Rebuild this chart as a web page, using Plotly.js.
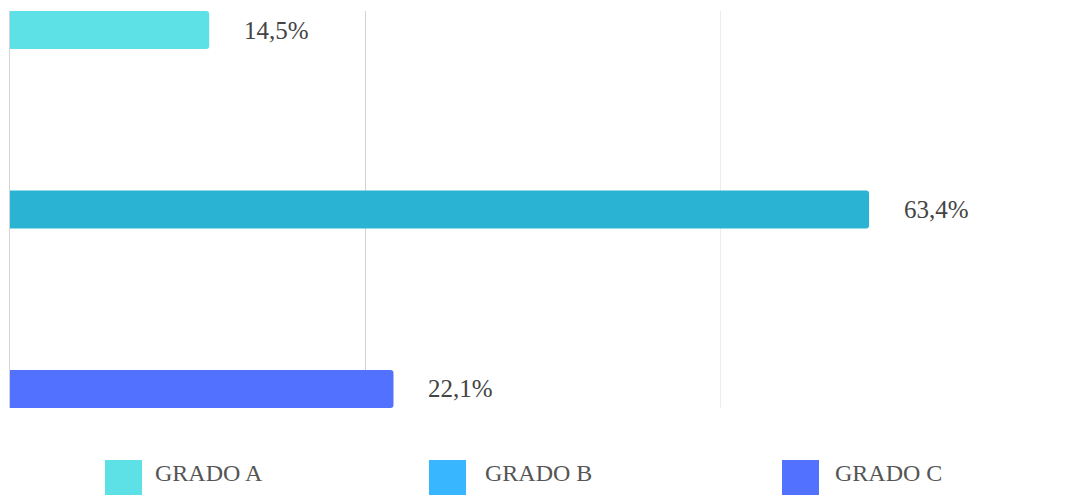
<!DOCTYPE html>
<html>
<head>
<meta charset="utf-8">
<script src="https://cdn.plot.ly/plotly-3.0.1.min.js"></script>
<style>html,body{margin:0;padding:0;background:#fff;}#chart{width:1065px;height:495px;}</style>
</head>
<body>
<div id="chart"></div>
<script>
// Data
const categories = ['GRADO A', 'GRADO B', 'GRADO C'];
const barLengths = [14.7, 63.4, 28.3];          // drawn bar lengths (as pictured)
const valueLabels = ['14,5%', '63,4%', '22,1%']; // printed labels
const barColors = ['#5de0e6', '#2bb3d3', '#5271ff'];
const legendNames = ['GRADO A', 'GRADO B', 'GRADO C'];
const legendColors = ['#5de0e6', '#38b6ff', '#5271ff'];
const gridMajor = [26.2];
const gridMinor = [52.4];

const SERIF = "'Liberation Serif', 'Times New Roman', 'DejaVu Serif', serif";

// layout geometry
const W = 1065, H = 495;
const M = {l: 10, r: 0, t: 11, b: 87};
const pw = W - M.l - M.r, ph = H - M.t - M.b;
const px2x = p => (p - M.l) / pw;
const px2y = p => (H - M.b - p) / ph;

const traces = categories.map((c, i) => ({
  type: 'bar', orientation: 'h',
  x: [barLengths[i]], y: [c],
  width: 0.212,
  marker: {color: barColors[i]},
  hoverinfo: 'skip', showlegend: false
}));

const annotations = categories.map((c, i) => ({
  x: barLengths[i], y: c, xref: 'x', yref: 'y',
  text: valueLabels[i], showarrow: false,
  xanchor: 'left', yanchor: 'middle', xshift: 33,
  font: {family: SERIF, size: 25, color: '#444'}
}));

const legSquareX = [105, 429, 782];
const legTextX = [153, 483, 833];
const shapes = [];
legendNames.forEach((n, i) => {
  shapes.push({
    type: 'rect', xref: 'paper', yref: 'paper', layer: 'above',
    x0: px2x(legSquareX[i]), x1: px2x(legSquareX[i] + 37),
    y0: px2y(460), y1: px2y(498),
    fillcolor: legendColors[i], line: {width: 0}
  });
  annotations.push({
    xref: 'paper', yref: 'paper', x: px2x(legTextX[i]), y: px2y(473),
    text: n, showarrow: false, xanchor: 'left', yanchor: 'middle',
    font: {family: SERIF, size: 24, color: '#555'}
  });
});

const layout = {
  width: W, height: H,
  margin: M,
  paper_bgcolor: '#fff', plot_bgcolor: '#fff',
  barcornerradius: 3,
  font: {family: SERIF},
  xaxis: {
    range: [0, pw / 13.55],
    tickmode: 'array', tickvals: gridMajor,
    showticklabels: false, ticks: '',
    showgrid: true, gridcolor: '#d3d3d3', gridwidth: 1,
    minor: {tickmode: 'array', tickvals: gridMinor, showgrid: true, gridcolor: '#ececec', gridwidth: 1, ticks: ''},
    zeroline: false, showline: false, fixedrange: true
  },
  yaxis: {
    type: 'category', categoryorder: 'array', categoryarray: categories,
    range: [2.106, -0.106],
    showticklabels: false, ticks: '', showgrid: false,
    zeroline: false, showline: true, linecolor: '#d3d3d3', linewidth: 1,
    fixedrange: true
  },
  shapes: shapes,
  annotations: annotations,
  showlegend: false
};

Plotly.newPlot('chart', traces, layout, {displayModeBar: false, staticPlot: true});
</script>
</body>
</html>
